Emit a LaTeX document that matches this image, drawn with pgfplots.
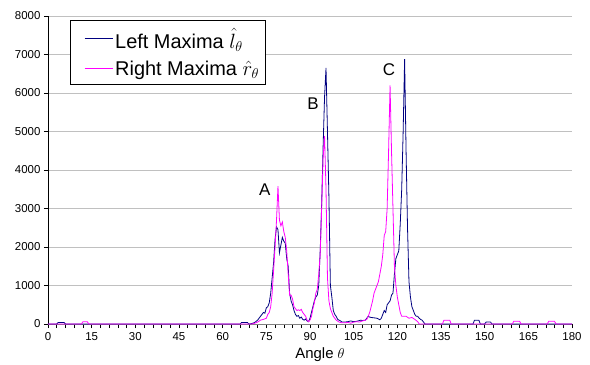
\documentclass[border=0pt]{standalone}
\usepackage{pgfplots}
\pgfplotsset{compat=1.18}
\usepackage{pgfplotstable}
\usepackage{fontspec}
\setmainfont{Liberation Sans}
\definecolor{lblue}{RGB}{0,0,128}
\definecolor{rmag}{RGB}{255,0,255}
\definecolor{gridg}{RGB}{192,192,192}
\pgfplotstableread{
x y
0 0
3 0
3.5 40
5.5 40
6 0
66 0
66.5 40
68.5 40
69 0
70 10
71 40
72 100
73 200
73.5 250
74 300
74.5 280
75 420
75.5 450
76 550
76.5 800
77 1200
77.5 1600
78 2200
78.5 2520
79 2450
79.5 1850
80 2050
80.5 2250
81 2150
81.5 2100
82 1700
82.5 1500
83 800
83.5 600
84 500
84.5 350
85 250
85.5 200
86 220
86.5 150
87 180
87.5 120
88 100
88.5 130
89 80
89.5 60
90 150
90.5 300
91 450
91.5 600
92 700
92.5 750
93 1000
93.5 1900
94 3100
94.5 4600
95 5900
95.5 6650
96 5000
96.5 3300
97 1000
97.5 700
98 350
98.5 250
99 200
99.5 120
100 100
100.5 80
101 50
102 50
103 60
104 80
105 60
106 70
107 90
107.5 100
108 90
109 100
109.5 150
110 200
110.5 180
111 170
112 160
113 150
114 110
114.5 150
115 250
115.5 350
116 300
116.5 500
117 550
117.5 600
118 750
118.5 800
119 1300
119.5 1700
120 1800
120.5 1900
121 2600
121.5 3500
122 5000
122.5 6880
123 4500
123.5 2500
124 1100
124.5 700
125 450
125.5 350
126 250
126.5 200
127 200
127.5 150
128 120
128.5 100
129 50
129.5 0
146 0
146.5 100
148 100
148.5 0
150 0
150.5 50
152 50
152.5 0
180 0
}\lefttab
\pgfplotstableread{
x y
0 0
11.5 0
12 60
13.5 60
14 0
70 0
71 20
72 50
73 100
74 120
75 150
75.5 250
76 300
76.5 450
77 800
77.5 1400
78 2000
78.5 2700
79 3580
79.5 2700
80 2550
80.5 2650
81 2400
81.5 2250
82 1900
82.5 1300
83 750
83.5 750
84 650
84.5 450
85 400
85.5 350
86 370
86.5 350
87 380
87.5 300
88 250
88.5 200
89 100
89.5 60
90 100
90.5 200
91 400
91.5 550
92 800
92.5 900
93 1300
93.5 1800
94 3000
94.5 4300
95 4880
95.5 3500
96 1200
96.5 600
97 400
97.5 300
98 200
98.5 150
99 100
100 50
101 30
102 30
103 40
104 20
105 50
106 60
107 50
108 80
109 100
109.5 120
110 200
110.5 300
111 450
111.5 600
112 800
112.5 900
113 1000
113.5 1100
114 1300
114.5 1500
115 1800
115.5 2300
116 2400
116.5 3000
117 4500
117.5 6200
118 4500
118.5 3000
119 1500
119.5 1000
120 700
120.5 500
121 300
121.5 200
122 200
123 200
124 150
125 170
126 120
127 60
127.5 0
135.5 0
136 100
138 100
138.5 0
159.5 0
160 70
162 70
162.5 0
171.5 0
172 70
174 70
174.5 0
180 0
}\righttab
\begin{document}
\begin{tikzpicture}
\path[use as bounding box] (-48bp,-41bp) rectangle (542bp,324bp);
\begin{axis}[
  scale only axis,
  width=524bp, height=308bp,
  xmin=0, xmax=180, ymin=0, ymax=8000,
  axis x line*=bottom, axis y line*=left,
  x axis line style={draw=gray, line width=0.8pt},
  y axis line style={draw=black, line width=0.8pt},
  xtick={0,15,...,180},
  minor xtick={0,3,...,180},
  ytick={0,1000,...,8000},
  tick align=outside,
  major tick length=4bp, minor tick length=4bp,
  tick style={black, line width=0.5pt},
  ymajorgrids,
  grid style={draw=gridg, line width=0.8pt},
  /pgf/number format/assume math mode=true,
  /pgf/number format/set thousands separator={},
  tick label style={font=\fontsize{11.5}{13}\selectfont},
  xticklabel style={yshift=-1bp},
  xlabel={Angle $\theta$},
  xlabel style={font=\fontsize{15}{17}\selectfont, yshift=0bp, xshift=10bp},
  legend style={at={(axis description cs:0.042,0.987)}, anchor=north west,
    draw=black, line width=0.6pt, font=\fontsize{20}{23}\selectfont,
    inner xsep=4bp, inner ysep=6bp, row sep=7bp, fill=white},
  legend cell align=left,
  clip=false,
]
\addplot[lblue, line width=0.8pt,
  legend image code/.code={\path (0bp,0bp); \draw[lblue, line width=1pt] (10bp,0bp) -- (38bp,0bp);}]
  table[x=x,y=y] {\lefttab};
\addlegendentry{Left Maxima $\hat{l}_\theta$}
\addplot[rmag, line width=0.8pt,
  legend image code/.code={\path (0bp,0bp); \draw[rmag, line width=1pt] (10bp,0bp) -- (38bp,0bp);}]
  table[x=x,y=y] {\righttab};
\addlegendentry{Right Maxima $\hat{r}_\theta$}
\node[font=\fontsize{17}{19}\selectfont] at (axis cs:74.5,3480) {A};
\node[font=\fontsize{17}{19}\selectfont] at (axis cs:91,5714) {B};
\node[font=\fontsize{17}{19}\selectfont] at (axis cs:117.1,6600) {C};
\end{axis}
\end{tikzpicture}
\end{document}
